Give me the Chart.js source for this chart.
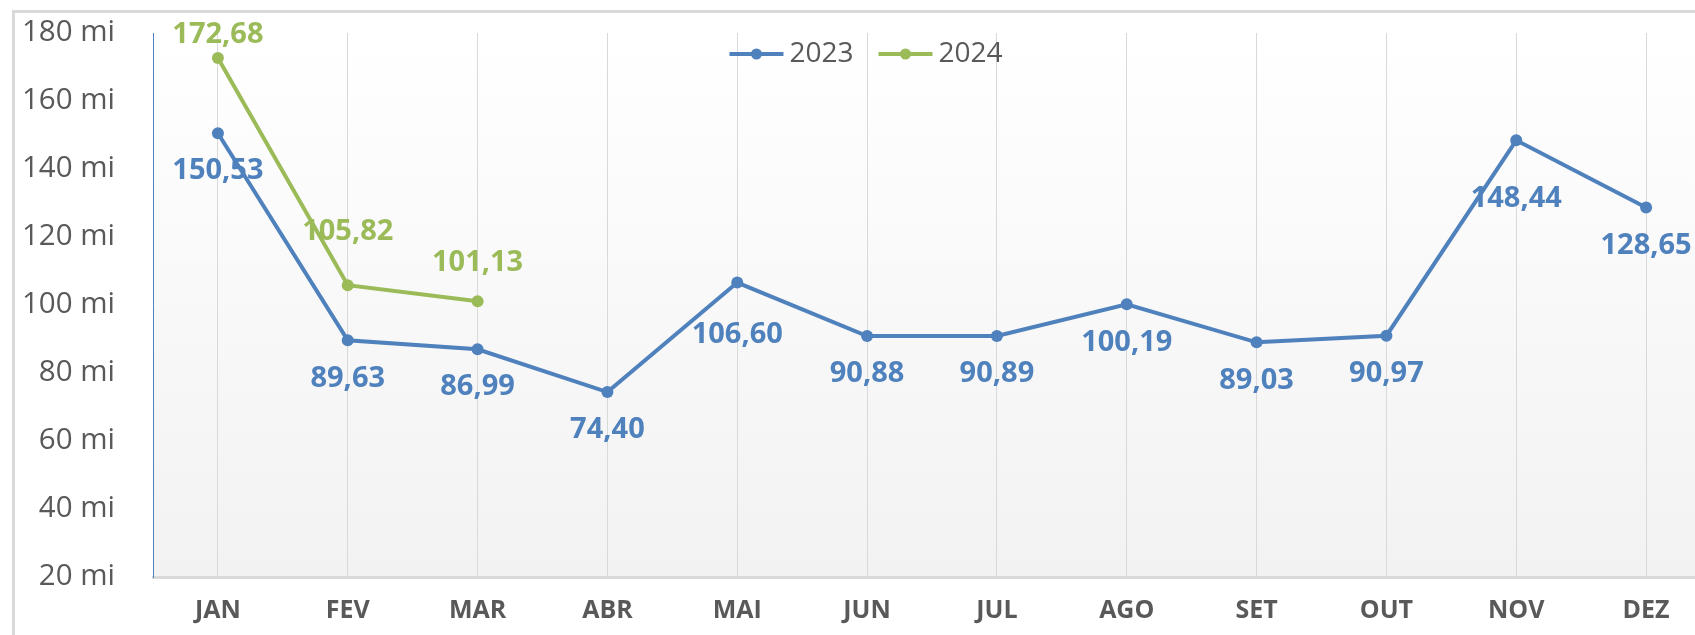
<!DOCTYPE html>
<html>
<head>
<meta charset="utf-8">
<script src="https://cdn.jsdelivr.net/npm/chart.js@4"></script>
<style>
    html, body { margin: 0; padding: 0; background: #fff; overflow: hidden; }
    #frame {
        position: absolute;
        left: 12px;
        top: 10px;
        width: 1702px;
        height: 640px;
        border: 3px solid #D9D9D9;
        background: #fff;
    }
    #chart { display: block; }
</style>
</head>
<body>
<div id="frame"><canvas id="chart" width="1702" height="614"></canvas></div>
<script>
const months = ['JAN', 'FEV', 'MAR', 'ABR', 'MAI', 'JUN', 'JUL', 'AGO', 'SET', 'OUT', 'NOV', 'DEZ'];
const values2023 = [150.53, 89.63, 86.99, 74.40, 106.60, 90.88, 90.89, 100.19, 89.03, 90.97, 148.44, 128.65];
const values2024 = [172.68, 105.82, 101.13];
const yTicks = [20, 40, 60, 80, 100, 120, 140, 160, 180];

const BLUE = '#4F81BD';
const GREEN = '#9BBB59';
const GREY = '#595959';

Chart.defaults.font.family = '"Open Sans", sans-serif';
Chart.defaults.color = GREY;

// value labels: side of the point, and a few hand nudges like in the original
const labelSide = ['below', 'above'];
const labelNudge = { '0-4': 14, '0-10': 20, '1-1': 15 };

const fmt = (v) => v.toFixed(2).replace('.', ',');

const plotBackground = {
    id: 'plotBackground',
    beforeDraw(chart) {
        const { ctx, chartArea: a } = chart;
        const grad = ctx.createLinearGradient(0, a.top, 0, a.bottom);
        grad.addColorStop(0, '#FFFFFF');
        grad.addColorStop(1, '#F2F2F2');
        ctx.save();
        ctx.fillStyle = grad;
        ctx.fillRect(a.left, a.top, a.right - a.left, a.bottom - a.top);
        ctx.restore();
    }
};

const valueLabels = {
    id: 'valueLabels',
    afterDatasetsDraw(chart) {
        const ctx = chart.ctx;
        ctx.save();
        ctx.font = 'bold 29px "Open Sans", sans-serif';
        ctx.textAlign = 'center';
        ctx.textBaseline = 'middle';
        chart.data.datasets.forEach((ds, i) => {
            const meta = chart.getDatasetMeta(i);
            const dir = labelSide[i] === 'above' ? -1 : 1;
            meta.data.forEach((pt, j) => {
                const extra = labelNudge[i + '-' + j] || 0;
                let y = pt.y + dir * (38 + extra);
                y = Math.max(y, 22);
                ctx.fillStyle = ds.borderColor;
                ctx.fillText(fmt(ds.data[j]), pt.x, y);
            });
        });
        ctx.restore();
    }
};

// legend drawn over the plot, centred on the whole chart (line + dot marker)
const legendOverlay = {
    id: 'legendOverlay',
    afterDraw(chart) {
        const ctx = chart.ctx;
        const markW = 54, gap = 6, itemGap = 25;
        ctx.save();
        ctx.font = '28px "Open Sans", sans-serif';
        ctx.textBaseline = 'middle';
        ctx.textAlign = 'left';
        const items = chart.data.datasets.map(ds => ({
            text: ds.label,
            color: ds.borderColor,
            w: ctx.measureText(ds.label).width
        }));
        const total = items.reduce((s, it) => s + markW + gap + it.w, 0) + itemGap * (items.length - 1);
        let x = chart.width / 2 - total / 2;
        const y = chart.chartArea.top + 21;
        items.forEach(it => {
            ctx.strokeStyle = it.color;
            ctx.lineWidth = 4;
            ctx.beginPath();
            ctx.moveTo(x, y);
            ctx.lineTo(x + markW, y);
            ctx.stroke();
            ctx.fillStyle = it.color;
            ctx.beginPath();
            ctx.arc(x + markW / 2, y, 5.5, 0, Math.PI * 2);
            ctx.fill();
            ctx.fillStyle = GREY;
            ctx.fillText(it.text, x + markW + gap, y);
            x += markW + gap + it.w + itemGap;
        });
        ctx.restore();
    }
};

const chart = new Chart(document.querySelector('#chart'), {
    type: 'line',
    data: {
        labels: months,
        datasets: [
            {
                label: '2023',
                data: values2023,
                borderColor: BLUE,
                backgroundColor: BLUE,
                borderWidth: 4,
                pointRadius: 6,
                pointBorderWidth: 0,
                fill: false,
                tension: 0,
            },
            {
                label: '2024',
                data: values2024,
                borderColor: GREEN,
                backgroundColor: GREEN,
                borderWidth: 4,
                pointRadius: 6,
                pointBorderWidth: 0,
                fill: false,
                tension: 0,
            },
        ],
    },
    options: {
        responsive: false,
        animation: false,
        layout: {
            padding: { top: 20, right: 3, bottom: 0, left: 0 }
        },
        scales: {
            x: {
                offset: true,
                grid: {
                    offset: false,
                    color: '#D9D9D9',
                    lineWidth: 1,
                    drawTicks: false,
                },
                border: { color: '#D9D9D9', width: 3 },
                ticks: {
                    padding: 19,
                    color: GREY,
                    font: { size: 25, weight: 'bold' },
                },
                afterFit: (scale) => { scale.height = 50; },
            },
            y: {
                min: yTicks[0],
                max: yTicks[yTicks.length - 1],
                grid: { display: false, drawTicks: false },
                border: { color: BLUE, width: 1 },
                afterBuildTicks: (scale) => {
                    scale.ticks = yTicks.map(v => ({ value: v }));
                },
                ticks: {
                    padding: 38,
                    color: GREY,
                    font: { size: 29.5 },
                    callback: (v) => v + ' mi',
                },
                afterFit: (scale) => {
                    scale.width = 138;
                    scale.paddingTop = 16;
                    scale.paddingBottom = 16;
                },
            }
        },
        plugins: {
            legend: { display: false },
            tooltip: { enabled: false },
        }
    },
    plugins: [plotBackground, valueLabels, legendOverlay],
});
</script>
</body>
</html>
